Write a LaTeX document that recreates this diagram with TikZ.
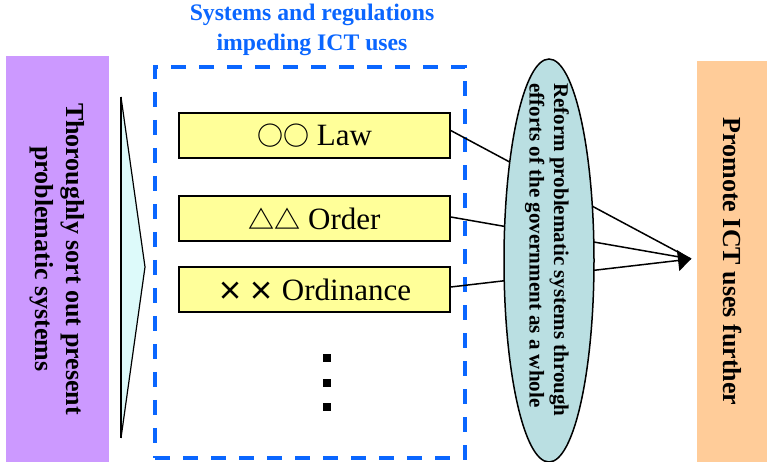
\documentclass[tikz,border=0pt]{standalone}
\usepackage{fontspec}
\setmainfont{Liberation Serif}
\newfontfamily\cjk{Noto Sans CJK JP}[BoldFont={Noto Sans CJK JP Bold}]
\usetikzlibrary{shapes.geometric,arrows.meta}
\definecolor{purplefill}{HTML}{CC99FF}
\definecolor{orangefill}{HTML}{FFCC99}
\definecolor{yellowfill}{HTML}{FFFF99}
\definecolor{ellfill}{HTML}{BADFE2}
\definecolor{trifill}{HTML}{DDFAFA}
\definecolor{blueline}{HTML}{0A66FF}
\tikzset{
  panel/.style={rectangle, inner sep=0pt, draw=none},
  lawbox/.style={rectangle, draw=black, line width=1.5pt, fill=yellowfill,
    minimum width=271pt, minimum height=45pt, inner sep=0pt,
    font=\fontsize{31}{34}\selectfont},
  dotsq/.style={rectangle, fill=black, minimum size=8pt, inner sep=0pt},
  link/.style={line width=1.5pt, draw=black},
}
\newcommand{\symb}[1]{{\cjk\fontsize{26}{30}\selectfont #1}}
\begin{document}
\begin{tikzpicture}[x=1pt,y=-1pt]
\useasboundingbox (0,0) rectangle (769,462);
% left purple panel
\node[panel, fill=purplefill, minimum width=406pt, minimum height=103pt, rotate=-90,
  align=center, font=\bfseries\fontsize{26}{31}\selectfont] (left) at (57.5,259)
  {Thoroughly sort out present\\problematic systems};
% right orange panel
\node[panel, fill=orangefill, minimum width=401pt, minimum height=70pt, rotate=-90,
  font=\bfseries\fontsize{26}{31}\selectfont] (right) at (732,261.5)
  {Promote ICT uses further};
% triangle
\coordinate (t1) at (121,97);
\coordinate (t2) at (145,267);
\coordinate (t3) at (121,438);
\fill[trifill] (t1) -- (t2) -- (t3) -- cycle;
\draw[line width=1.2pt, line join=miter] (t1) -- (t2) -- (t3);
\draw[line width=2pt] (t1) -- (t3);
% dashed frame
\node[rectangle, draw=blueline, line width=3.2pt, dash pattern=on 15pt off 13pt,
  minimum width=310pt, minimum height=391pt, inner sep=0pt] (frame) at (310,262.5) {};
\node[text=blueline, align=center, font=\bfseries\fontsize{23.7}{30}\selectfont]
  (title) at (312,29.5) {Systems and regulations\\impeding ICT uses};
% boxes
\node[lawbox] (b1) at (314.5,135.5) {\symb{\bfseries ○○} Law};
\node[lawbox] (b2) at (314.5,218.5) {\symb{\bfseries △△} Order};
\node[lawbox] (b3) at (314.5,289.5) {\symb{\bfseries ×\,×} Ordinance};
% dots
\node[dotsq] (d1) at (327,358) {};
\node[dotsq] (d2) at (327,383) {};
\node[dotsq] (d3) at (327,407) {};
% connectors
\coordinate (tip) at (691,259);
\draw[link] ([yshift=5pt]b1.east) -- (tip);
\draw[link] ([yshift=1.5pt]b2.east) -- (tip);
\draw[link, -{Triangle[length=13pt,width=21pt]}] ([yshift=2.5pt]b3.east) -- (tip);
% ellipse
\node[ellipse, draw=black, line width=1.5pt, fill=ellfill, minimum width=90pt,
  minimum height=403pt, inner sep=0pt] (ell) at (549,260.5) {};
\node[rotate=-90, anchor=west, align=left, inner sep=0pt,
  font=\bfseries\fontsize{21}{24.5}\selectfont] (elltext) at (547,83)
  {Reform problematic systems through\\efforts of the government as a whole};
\end{tikzpicture}
\end{document}
